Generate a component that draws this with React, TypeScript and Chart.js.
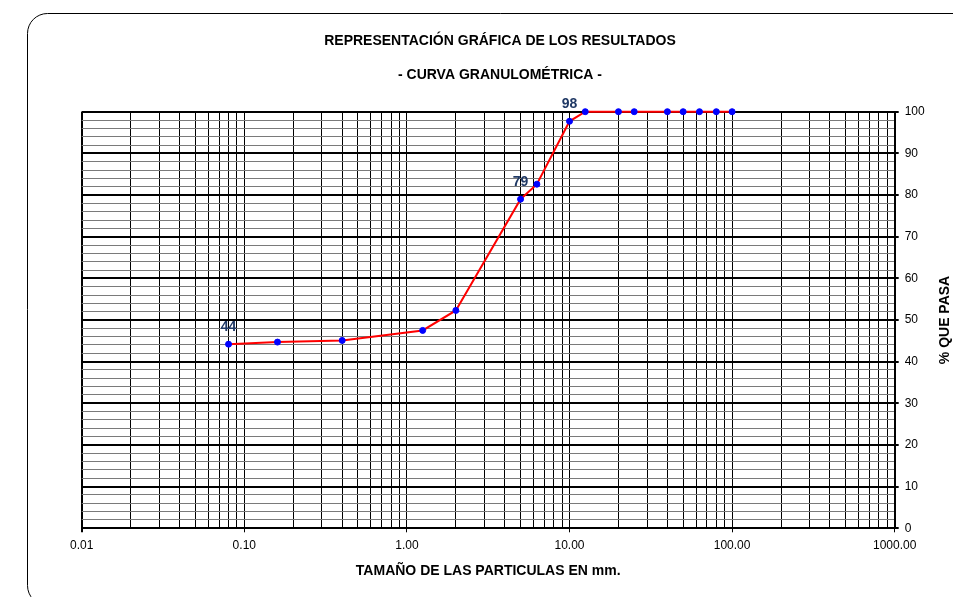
import React, { useEffect, useRef } from 'react';
import { Chart, registerables } from 'chart.js';

Chart.register(...registerables);

// ---- Data ----
const sieveSizes = [0.08, 0.16, 0.4, 1.25, 2, 5, 6.3, 10, 12.5, 20, 25, 40, 50, 63, 80, 100];
const percentPassing = [44.2, 44.7, 45.1, 47.5, 52.3, 79.0, 82.6, 97.7, 100, 100, 100, 100, 100, 100, 100, 100];
const pointLabels = ['44', '', '', '', '', '79', '', '98', '', '', '', '', '', '', '', ''];

const xTickValues = [0.01, 0.1, 1, 10, 100, 1000];
const xTickLabels = ['0.01', '0.10', '1.00', '10.00', '100.00', '1000.00'];
const yTickValues = [0, 10, 20, 30, 40, 50, 60, 70, 80, 90, 100];
const yTickLabels = ['0', '10', '20', '30', '40', '50', '60', '70', '80', '90', '100'];

const chartTitle = 'REPRESENTACIÓN GRÁFICA DE LOS RESULTADOS';
const chartSubtitle = '- CURVA GRANULOMÉTRICA -';
const xAxisTitle = 'TAMAÑO DE LAS PARTICULAS EN mm.';
const yAxisTitle = '% QUE PASA';

const FONT = 'Arial, "Liberation Sans", Helvetica, sans-serif';

// log-paper grid positions: 1..9 x 10^e
const xGridValues: number[] = (() => {
  const out: number[] = [];
  for (let e = -2; e < 3; e++) {
    for (let m = 1; m < 10; m++) out.push(Number((m * Math.pow(10, e)).toPrecision(6)));
  }
  out.push(1000);
  return out;
})();

const decadeIndex = (v: number) => xTickValues.findIndex((t) => Math.abs(t - v) / t < 1e-6);
const yLabelIndex = (v: number) => yTickValues.indexOf(Math.round(v * 1000) / 1000);

const decorPlugin = {
  id: 'decor',
  beforeDraw(chart: any) {
    const ctx = chart.ctx;
    ctx.save();
    ctx.fillStyle = '#ffffff';
    ctx.fillRect(0, 0, chart.width, chart.height);
    // rounded frame
    const x = 27.5, y = 13.5, w = 1000, h = 592, r = 20;
    ctx.beginPath();
    ctx.moveTo(x + r, y);
    ctx.lineTo(x + w - r, y);
    ctx.arcTo(x + w, y, x + w, y + r, r);
    ctx.lineTo(x + w, y + h - r);
    ctx.arcTo(x + w, y + h, x + w - r, y + h, r);
    ctx.lineTo(x + r, y + h);
    ctx.arcTo(x, y + h, x, y + h - r, r);
    ctx.lineTo(x, y + r);
    ctx.arcTo(x, y, x + r, y, r);
    ctx.closePath();
    ctx.strokeStyle = '#000';
    ctx.lineWidth = 1;
    ctx.stroke();
    ctx.restore();
  },
  afterDraw(chart: any) {
    const ctx = chart.ctx;
    const area = chart.chartArea;
    ctx.save();
    ctx.fillStyle = '#000';
    ctx.textAlign = 'center';
    ctx.textBaseline = 'middle';
    ctx.font = `bold 14px ${FONT}`;
    ctx.fillText(chartTitle, 500, 41);
    ctx.fillText(chartSubtitle, 500, 75);
    ctx.fillText(xAxisTitle, (area.left + area.right) / 2, 571);
    ctx.save();
    ctx.translate(945, (area.top + area.bottom) / 2);
    ctx.rotate(-Math.PI / 2);
    ctx.fillText(yAxisTitle, 0, 0);
    ctx.restore();

    // point value labels
    const meta = chart.getDatasetMeta(0);
    ctx.font = `bold 14px ${FONT}`;
    ctx.fillStyle = '#1f3864';
    meta.data.forEach((pt: any, i: number) => {
      const label = pointLabels[i];
      if (label) ctx.fillText(label, pt.x, pt.y - 17);
    });
    ctx.restore();
  },
};

export default function App() {
  const canvasRef = useRef<HTMLCanvasElement | null>(null);

  useEffect(() => {
    if (!canvasRef.current) return;
    Chart.defaults.font.family = FONT;
    const chart = new Chart(canvasRef.current, {
      type: 'line',
      data: {
        datasets: [
          {
            data: sieveSizes.map((x, i) => ({ x, y: percentPassing[i] })),
            borderColor: '#ff0000',
            borderWidth: 2,
            pointBackgroundColor: '#0000ff',
            pointBorderColor: '#0000ff',
            pointRadius: 3,
            pointBorderWidth: 1,
            tension: 0,
            clip: false as any,
          },
        ],
      },
      options: {
        responsive: false,
        animation: false,
        devicePixelRatio: 1,
        layout: { padding: { left: 81.7, top: 111.7, right: 0, bottom: 0 } },
        plugins: {
          legend: { display: false },
          tooltip: { enabled: false },
          title: { display: false },
        },
        scales: {
          x: {
            type: 'logarithmic',
            position: 'bottom',
            min: 0.01,
            max: 1000,
            afterBuildTicks: (s: any) => {
              s.ticks = xGridValues.map((v) => ({ value: v, major: decadeIndex(v) >= 0 }));
            },
            afterFit: (s: any) => {
              s.height = 68.7;
            },
            ticks: {
              autoSkip: false,
              maxRotation: 0,
              padding: 6,
              color: '#000',
              font: { size: 12 },
              callback: (v: any) => {
                const k = decadeIndex(Number(v));
                return k >= 0 ? xTickLabels[k] : '';
              },
            },
            grid: {
              color: '#000',
              lineWidth: (c: any) => (c.index === 0 ? 2 : 1),
              tickLength: 4,
              tickColor: (c: any) => (c.tick && decadeIndex(c.tick.value) >= 0 ? '#000' : 'rgba(0,0,0,0)'),
            },
            border: { display: true, color: '#000', width: 2 },
          },
          y: {
            type: 'linear',
            position: 'right',
            min: 0,
            max: 100,
            afterFit: (s: any) => {
              s.width = 58.3;
            },
            ticks: {
              stepSize: 2,
              autoSkip: false,
              padding: 6,
              color: '#000',
              font: { size: 12 },
              callback: (v: any) => {
                const k = yLabelIndex(Number(v));
                return k >= 0 ? yTickLabels[k] : '';
              },
            },
            grid: {
              color: (c: any) => (c.tick && yLabelIndex(c.tick.value) >= 0 ? '#000' : '#7a7a7a'),
              lineWidth: (c: any) => (c.tick && yLabelIndex(c.tick.value) >= 0 ? 2 : 1),
              tickLength: 4,
              tickColor: (c: any) => (c.tick && yLabelIndex(c.tick.value) >= 0 ? '#000' : 'rgba(0,0,0,0)'),
            },
            border: { display: true, color: '#000', width: 2 },
          },
        },
      } as any,
      plugins: [decorPlugin],
    });
    return () => chart.destroy();
  }, []);

  return (
    <div style={{ position: 'fixed', left: 0, top: 0, width: 953, height: 597, background: '#fff' }}>
      <canvas ref={canvasRef} width={953} height={597} style={{ display: 'block' }} />
    </div>
  );
}
